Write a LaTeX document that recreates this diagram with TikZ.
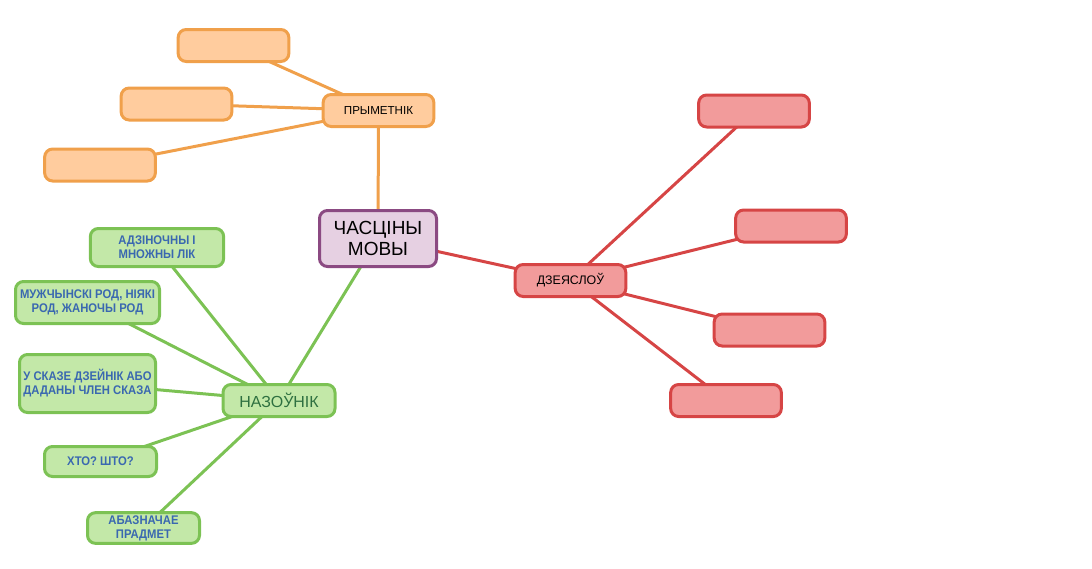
\documentclass[tikz,border=0pt]{standalone}
\usepackage{fontspec}
\setmainfont{Liberation Sans}
\newfontfamily\narrowfont[FakeStretch=0.9]{Liberation Sans}
\usetikzlibrary{backgrounds}

\definecolor{purplefill}{HTML}{E6D0E2}
\definecolor{purpleline}{HTML}{8B4A82}
\definecolor{orangefill}{HTML}{FFCC9E}
\definecolor{orangeline}{HTML}{F0A04B}
\definecolor{redfill}{HTML}{F29B9B}
\definecolor{redline}{HTML}{D64545}
\definecolor{greenfill}{HTML}{C3E8A8}
\definecolor{greenline}{HTML}{7CC254}
\definecolor{greentext}{HTML}{2E7040}
\definecolor{bluetext}{HTML}{3A68B0}

\tikzset{
  box/.style={draw, rectangle, rounded corners=6pt, line width=2.25pt, inner sep=1pt, align=center},
  mainbox/.style={box, draw=purpleline, fill=purplefill, minimum width=87.75pt, minimum height=42pt, font=\fontsize{14.25}{15.5}\selectfont},
  orangebox/.style={box, draw=orangeline, fill=orangefill, minimum width=83pt, minimum height=24pt, font=\fontsize{8.7}{10}\selectfont},
  redbox/.style={box, draw=redline, fill=redfill, minimum width=83pt, minimum height=24pt, font=\fontsize{9.3}{10}\selectfont},
  greenbox/.style={box, draw=greenline, fill=greenfill, minimum width=84pt, minimum height=23pt, text=bluetext, font=\narrowfont\bfseries\fontsize{9.4}{10.6}\selectfont},
  orangeedge/.style={draw=orangeline, line width=2.25pt},
  rededge/.style={draw=redline, line width=2.25pt},
  greenedge/.style={draw=greenline, line width=2.25pt}
}

\begin{document}
\begin{tikzpicture}[x=0.75pt, y=-0.75pt]
\useasboundingbox (0,0) rectangle (1092,568);

%Declare nodes.
\node[mainbox] (parts) at (378,238.5) {ЧАСЦІНЫ\\МОВЫ};

\node[orangebox] (adj) at (378.5,110.5) {ПРЫМЕТНІК};
\node[orangebox] (adj1) at (233.5,45.5) {};
\node[orangebox] (adj2) at (176.5,104) {};
\node[orangebox] (adj3) at (100,165) {};

\node[redbox] (verb) at (570.5,280.5) {ДЗЕЯСЛОЎ};
\node[redbox] (verb1) at (754,111) {};
\node[redbox] (verb2) at (791,226) {};
\node[redbox] (verb3) at (769.5,330) {};
\node[redbox] (verb4) at (726,400.5) {};

\node[greenbox, text=greentext, font=\fontsize{12}{13}\selectfont, minimum height=24pt] (noun) at (279,400.5) {НАЗОЎНІК};
\node[greenbox, minimum width=100pt, minimum height=28.5pt] (noun1) at (157,247.5) {АДЗІНОЧНЫ І\\МНОЖНЫ ЛІК};
\node[greenbox, minimum width=108pt, minimum height=31.5pt] (noun2) at (87.5,302.5) {МУЖЧЫНСКІ РОД, НІЯКІ\\РОД, ЖАНОЧЫ РОД};
\node[greenbox, minimum width=102pt, minimum height=43.5pt] (noun3) at (87.5,383.5) {У СКАЗЕ ДЗЕЙНІК АБО\\ДАДАНЫ ЧЛЕН СКАЗА};
\node[greenbox, minimum height=22.5pt] (noun4) at (100.5,461.5) {ХТО? ШТО?};
\node[greenbox] (noun5) at (143.5,528) {АБАЗНАЧАЕ\\ПРАДМЕТ};

%Setup edges.
\begin{scope}[on background layer]
\draw[orangeedge] (parts.center) -- (adj.center);
\draw[orangeedge] (adj.center) -- (adj1.center);
\draw[orangeedge] (adj.center) -- (adj2.center);
\draw[orangeedge] (adj.center) -- (adj3.center);

\draw[rededge] (parts.center) -- (verb.center);
\draw[rededge] (verb.center) -- (verb1.center);
\draw[rededge] (verb.center) -- (verb2.center);
\draw[rededge] (verb.center) -- (verb3.center);
\draw[rededge] (verb.center) -- (verb4.center);

\draw[greenedge] (parts.center) -- (noun.center);
\draw[greenedge] (noun.center) -- (noun1.center);
\draw[greenedge] (noun.center) -- (noun2.center);
\draw[greenedge] (noun.center) -- (noun3.center);
\draw[greenedge] (noun.center) -- (noun4.center);
\draw[greenedge] (noun.center) -- (noun5.center);
\end{scope}

\end{tikzpicture}
\end{document}
